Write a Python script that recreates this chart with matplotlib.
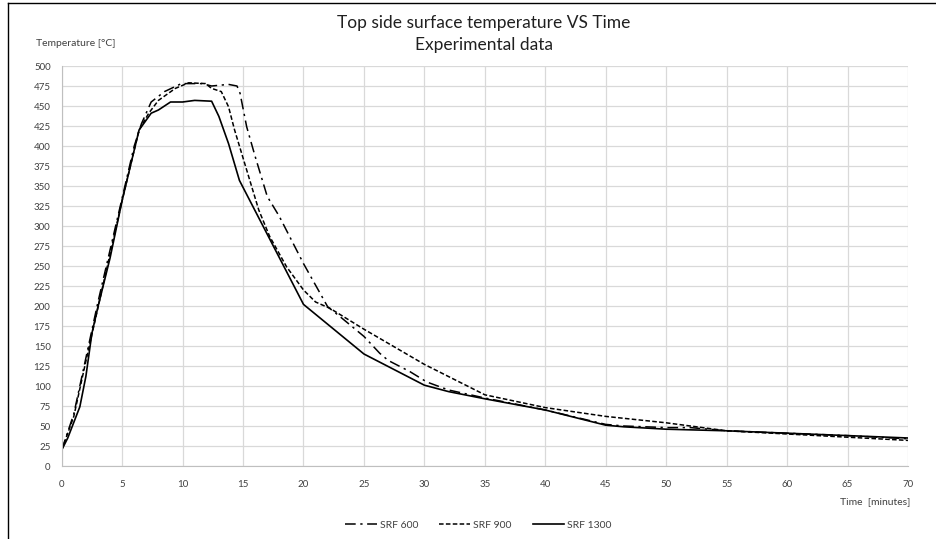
import matplotlib.pyplot as plt
from matplotlib.lines import Line2D

# SRF 600 (dash-dot)
t600 = [0, 1, 2, 3, 4, 5, 6, 6.6, 7.4, 8.5, 9.9, 11.6, 12.4, 13.8, 14.5, 14.75, 15.3, 16,
        17, 18, 20, 22, 23, 25, 26.3, 27, 28.8, 30.2, 32, 35, 40, 45, 46.5, 50, 52, 55, 60, 65, 70]
T600 = [20, 65, 135, 205, 270, 335, 400, 428, 455, 468, 478, 478, 475, 477, 475, 466, 424, 387,
        337, 312, 253, 199, 187, 162, 141, 132, 118, 105, 95, 85, 70, 52, 50, 48, 48, 44, 41, 38, 34]

# SRF 900 (dashed)
t900 = [0, 1, 2, 3, 4, 5, 6, 6.4, 7.2, 8, 9.4, 10.5, 11.9, 12.4, 13.2, 13.8, 14.3, 15, 15.7,
        16.3, 17.2, 18.6, 20, 21, 22.2, 25, 30, 35, 40, 45, 50, 55, 60, 65, 70]
T900 = [20, 62, 131, 198, 265, 332, 395, 420, 441, 457, 472, 479, 478, 472, 468, 449, 420, 385, 350,
        320, 287, 249, 220, 205, 197, 171, 127, 89, 73, 62, 54, 44, 40, 36, 32]

# SRF 1300 (solid)
t1300 = [0, 0.5, 1.5, 2, 2.5, 3, 4, 5, 6, 6.4, 7.4, 8, 9, 10, 11, 12.4, 13, 13.8, 14.7,
         20, 25, 30, 32, 35, 40, 45, 46.5, 50, 55, 60, 65, 70]
T1300 = [20, 35, 74, 112, 166, 199, 260, 332, 395, 420, 441, 445, 455, 455, 457, 456, 437, 403, 357,
         202, 140, 101, 93, 84, 70, 51, 49, 46, 44, 41, 38, 35]

xticks = list(range(0, 75, 5))
yticks = list(range(0, 525, 25))

plt.rcParams['font.family'] = ['Lato', 'DejaVu Sans']

fig = plt.figure(figsize=(9.36, 5.39), dpi=100)
ax = fig.add_axes([61.7/936, 1-466/539, (908-61.7)/936, (466-66)/539])

ax.plot(t600, T600, color="black", lw=1.1, dashes=[7, 3, 1.5, 3], label="SRF 600")
ax.plot(t900, T900, color="black", lw=1.1, dashes=[3, 1.5], label="SRF 900")
ax.plot(t1300, T1300, color="black", lw=1.2, label="SRF 1300")

ax.set_xlim(0, 70)
ax.set_ylim(0, 500)
ax.set_xticks(xticks)
ax.set_yticks(yticks)
ax.grid(True, color="#d9d9d9", lw=0.9)
ax.set_axisbelow(True)
for s in ["top", "right"]:
    ax.spines[s].set_visible(False)
for s in ["left", "bottom"]:
    ax.spines[s].set_color("#bfbfbf")
ax.tick_params(length=0, labelsize=7, colors="#404040", pad=8)
ax.tick_params(axis="x", pad=10)

fig.text(484/936, 1-23/539, "Top side surface temperature VS Time", ha="center", va="center",
         fontsize=12.5, color="#202020")
fig.text(484/936, 1-45/539, "Experimental data", ha="center", va="center",
         fontsize=12.5, color="#202020")
fig.text(36/936, 1-43/539, "Temperature [°C]", ha="left", va="center", fontsize=7.5, color="#404040")
fig.text(910/936, 1-502/539, "Time  [minutes]", ha="right", va="center", fontsize=7.5, color="#404040")

fig.legend(loc="center", bbox_to_anchor=(0.511, 1-525/539), ncol=3, frameon=False,
           fontsize=7.5, handlelength=3, columnspacing=2, handletextpad=0.3,
           labelcolor="#404040")

# outer chart border (left and top visible)
fig.add_artist(Line2D([8/936, 8/936], [0, 1-3/539], color="black", lw=1, transform=fig.transFigure))
fig.add_artist(Line2D([8/936, 1], [1-3/539, 1-3/539], color="black", lw=1, transform=fig.transFigure))

fig.savefig("out.png", dpi=100)
